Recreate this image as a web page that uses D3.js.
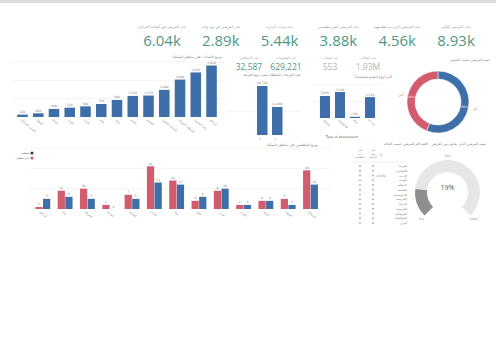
<!DOCTYPE html>
<html>
<head>
<meta charset="utf-8">
<script src="https://cdn.jsdelivr.net/npm/d3@7"></script>
<style>
  html, body { margin: 0; padding: 0; background: #fff; }
  svg { display: block; }
  text { font-family: "DejaVu Sans", sans-serif; }
  .num { font-family: "Open Sans", sans-serif; }
</style>
</head>
<body>
<svg id="chart" width="496" height="354"></svg>
<script>
// ---- data ----
const kpiTitles = ["عدد المرضى في العناية المركزة", "عدد المرضى في يوم واحد", "عدد مرات الزيارة",
                   "عدد المرضى الغير مطعمين", "عدد المرضى الذين تم تطعيمهم", "عدد المرضى الكلي"];
const kpiValues = [6040, 2890, 5440, 3880, 4560, 8930];

const subTitles = ["عدد المتعافين", "عدد الفحوصات", "عدد الوفيات", "عدد الحالات"];
const subValues = [32587, 629221, 553, 1930000];

const regions = ["الحدود الشمالية", "الجوف", "الباحة", "نجران", "جازان", "حائل", "تبوك",
                 "عسير", "القصيم", "المدينة المنورة", "المنطقة الشرقية", "مكة المكرمة", "الرياض"];
const regionCounts = [130, 200, 440, 510, 580, 710, 930, 1150, 1170, 1480, 2040, 2430, 2810];

const doseLabels = ["1", "2"];
const doseValues = [20730, 11860];

const assessTypes = ["Home", "Hospital", "ICU", "Clinic"];
const assessValues = [2650, 3120, 150, 2510];

const genderLabels = ["ذكر", "أنثى"];
const genderValues = [56, 44];

const groupNames = ["الرياض", "مكة", "الشرقية", "المدينة", "القصيم", "عسير", "تبوك",
                    "حائل", "جازان", "نجران", "الباحة", "الجوف", "الشمالية"];
const seriesNames = ["غير مطعم", "مطعم"];
const redValues  = [1, 9, 10, 2, 7, 21, 14, 4, 9, 2, 4, 5, 19];
const blueValues = [5, 6, 5, 0, 5, 13, 12, 6, 10, 2, 4, 2, 12];

const tableRows = ["العربية", "الإنجليزية", "الأردية", "الهندية", "البنغالية", "الفلبينية",
                   "الإندونيسية", "الفارسية", "التركية", "الفرنسية", "الصومالية", "السواحلية", "أخرى"];
const gaugeValue = 0.19;

const blue = "#3f6fa9", red = "#d25b6d", teal = "#4f9883";

const svg = d3.select("#chart");

// top band
svg.append("rect").attr("x", 0).attr("y", 0).attr("width", 496).attr("height", 3).attr("fill", "#dcdcdc");

// ---- KPI row ----
const kpiX = d3.scalePoint().domain(d3.range(6)).range([162, 456]);
const fmtK = d3.format(".3s");
kpiValues.forEach(function (v, i) {
    svg.append("text").attr("x", kpiX(i)).attr("y", 28).attr("text-anchor", "middle")
        .attr("font-size", 3.6).attr("fill", "#999").text(kpiTitles[i]);
    svg.append("text").attr("class", "num").attr("x", kpiX(i)).attr("y", 46).attr("text-anchor", "middle")
        .attr("font-size", 15).attr("fill", teal).text(fmtK(v));
});

// second KPI row
const subX = [249, 286, 330, 368];
subValues.forEach(function (v, i) {
    svg.append("text").attr("x", subX[i]).attr("y", 59).attr("text-anchor", "middle")
        .attr("font-size", 3.2).attr("fill", "#999").text(subTitles[i]);
    svg.append("text").attr("class", "num").attr("x", subX[i]).attr("y", 70).attr("text-anchor", "middle")
        .attr("font-size", 8.5).attr("fill", i < 2 ? teal : "#b5b5b5")
        .text(i < 3 ? d3.format(",")(v) : fmtK(v));
});

// ---- helper for simple bar chart ----
function barChart(opts) {
    const x = d3.scaleBand().domain(opts.cats).range(opts.xr).padding(opts.pad);
    const y = d3.scaleLinear().domain(opts.yd).range(opts.yr);
    const g = svg.append("g");
    g.selectAll(".grid").data(opts.grid).enter().append("line")
        .attr("x1", opts.gx[0]).attr("x2", opts.gx[1])
        .attr("y1", d => y(d)).attr("y2", d => y(d))
        .attr("stroke", "#ececec").attr("stroke-width", 0.6);
    g.selectAll(".bar").data(opts.vals).enter().append("rect")
        .attr("x", (d, i) => x(opts.cats[i])).attr("width", x.bandwidth())
        .attr("y", d => y(d)).attr("height", d => y(0) - y(d)).attr("fill", blue);
    g.selectAll(".val").data(opts.vals).enter().append("text")
        .attr("x", (d, i) => x(opts.cats[i]) + x.bandwidth() / 2).attr("y", d => y(d) - 1.5)
        .attr("text-anchor", "middle").attr("font-size", 3).attr("fill", "#777")
        .text(d => d3.format(",")(d));
    g.selectAll(".lab").data(opts.cats).enter().append("text")
        .attr("transform", d => `translate(${x(d) + x.bandwidth() / 2 - 2},${y(0) + 3}) rotate(${opts.rot})`)
        .attr("text-anchor", opts.rot ? "start" : "middle").attr("dy", opts.rot ? 0 : 2)
        .attr("font-size", 3).attr("fill", "#888").text(d => d);
    return { x: x, y: y };
}

// region bar chart
barChart({ cats: regions, vals: regionCounts, xr: [12, 222], pad: 0.33,
           yd: [0, 3000], yr: [117, 62], grid: [1000, 2000, 3000], gx: [12, 224], rot: 40 });
svg.append("text").attr("x", 222).attr("y", 58).attr("text-anchor", "end")
    .attr("font-size", 3.4).attr("fill", "#777").text("توزيع الإصابات على مناطق المملكة");

// dose bar chart
barChart({ cats: doseLabels, vals: doseValues, xr: [252.5, 287], pad: 0.3,
           yd: [0, 20000], yr: [135, 87.7], grid: [10000], gx: [226, 302], rot: 0 });
svg.append("text").attr("x", 272).attr("y", 76).attr("text-anchor", "middle")
    .attr("font-size", 3.4).attr("fill", "#777").text("عدد الجرعات المعطاة حسب نوع الجرعة");

// assessment bar chart
barChart({ cats: assessTypes, vals: assessValues, xr: [315, 380], pad: 0.33,
           yd: [0, 4000], yr: [118, 84.7], grid: [2000, 4000], gx: [312, 382], rot: 40 });
svg.append("text").attr("x", 392).attr("y", 78).attr("text-anchor", "end")
    .attr("font-size", 3.4).attr("fill", "#777").text("أكثر أنواع التقييم استخداماً");
svg.append("text").attr("x", 342).attr("y", 138).attr("text-anchor", "middle")
    .attr("font-size", 3.3).attr("fill", "#666").text("Type of assessment");

// ---- donut ----
const pie = d3.pie().sort(null).value(d => d);
const arc = d3.arc().innerRadius(23).outerRadius(31);
const donut = svg.append("g").attr("transform", "translate(438,102)");
const arcs = pie(genderValues);
donut.selectAll("path").data(arcs).enter().append("path")
    .attr("d", arc).attr("fill", (d, i) => i === 0 ? blue : red)
    .attr("stroke", "#fff").attr("stroke-width", 0.5);
donut.selectAll(".pct").data(arcs).enter().append("text")
    .attr("transform", d => `translate(${arc.centroid(d)})`).attr("text-anchor", "middle").attr("dy", 1)
    .attr("font-size", 3).attr("fill", "#fff").text(d => d.data + "%");
const outer = d3.arc().innerRadius(38).outerRadius(38);
donut.selectAll(".lab").data(arcs).enter().append("text")
    .attr("transform", d => `translate(${outer.centroid(d)})`).attr("text-anchor", "middle").attr("dy", 1)
    .attr("font-size", 3.2).attr("fill", "#777").text((d, i) => genderLabels[i]);
svg.append("text").attr("x", 490).attr("y", 61).attr("text-anchor", "end")
    .attr("font-size", 3.4).attr("fill", "#777").text("نسبة المرضى حسب الجنس");

// ---- grouped bar chart ----
const gx0 = d3.scaleBand().domain(groupNames).range([28.3, 325]).padding(0.3);
const gx1 = d3.scaleBand().domain(["r", "b"]).range([0, gx0.bandwidth()]).padding(0.05);
const gy = d3.scaleLinear().domain([0, 30]).range([209, 148]);
svg.selectAll(".ggrid").data([10, 20, 30]).enter().append("line")
    .attr("x1", 30).attr("x2", 330).attr("y1", d => gy(d)).attr("y2", d => gy(d))
    .attr("stroke", "#ececec").attr("stroke-width", 0.6);
const groups = svg.selectAll(".grp").data(groupNames).enter().append("g")
    .attr("transform", d => `translate(${gx0(d)},0)`);
groups.each(function (d, i) {
    const g = d3.select(this);
    [["r", redValues[i], red], ["b", blueValues[i], blue]].forEach(function (s) {
        g.append("rect").attr("x", gx1(s[0])).attr("width", gx1.bandwidth())
            .attr("y", gy(s[1])).attr("height", gy(0) - gy(s[1])).attr("fill", s[2]);
        g.append("text").attr("x", gx1(s[0]) + gx1.bandwidth() / 2).attr("y", gy(s[1]) - 1.5)
            .attr("text-anchor", "middle").attr("font-size", 3).attr("fill", "#777").text(s[1]);
    });
    g.append("text").attr("transform", `translate(${gx0.bandwidth() / 2 - 3},${gy(0) + 3}) rotate(40)`)
        .attr("font-size", 3).attr("fill", "#888").text(d);
});
[blue, red].forEach(function (c, i) {
    svg.append("circle").attr("cx", 32).attr("cy", 153 + i * 5).attr("r", 1.6).attr("fill", i === 0 ? "#2f3d5c" : c);
    svg.append("text").attr("x", 29).attr("y", 154.2 + i * 5).attr("text-anchor", "end")
        .attr("font-size", 3).attr("fill", "#777").text(seriesNames[1 - i]);
});
svg.append("text").attr("x", 318).attr("y", 146).attr("text-anchor", "end")
    .attr("font-size", 3.4).attr("fill", "#777").text("توزيع المطعمين على مناطق المملكة");

// ---- table ----
const ty = d3.scalePoint().domain(tableRows).range([166, 223]);
svg.append("text").attr("x", 428).attr("y", 145).attr("text-anchor", "end")
    .attr("font-size", 3.4).attr("fill", "#777").text("اللغة الأم للمرضى حسب الحالة");
[["هل", "تم", "التطعيم"], ["هل", "يوجد", "أعراض"]].forEach(function (h, j) {
    h.forEach(function (w, k) {
        svg.append("text").attr("x", j === 0 ? 360 : 373).attr("y", 151 + k * 3.5).attr("text-anchor", "middle")
            .attr("font-size", 2.8).attr("fill", "#888").text(w);
    });
});
svg.append("text").attr("x", 381).attr("y", 156).attr("text-anchor", "middle")
    .attr("font-size", 3).attr("fill", "#888").text("%");
svg.append("line").attr("x1", 352).attr("x2", 408).attr("y1", 162).attr("y2", 162)
    .attr("stroke", "#ddd").attr("stroke-width", 0.5);
tableRows.forEach(function (r) {
    svg.append("text").attr("x", 407).attr("y", ty(r) + 1).attr("text-anchor", "end")
        .attr("font-size", 3).attr("fill", "#777").text(r);
    [360, 373].forEach(function (cx) {
        svg.append("circle").attr("cx", cx).attr("cy", ty(r)).attr("r", 0.9).attr("fill", "#aaa");
    });
});
svg.append("text").attr("x", 381).attr("y", ty(tableRows[2]) + 1).attr("text-anchor", "middle")
    .attr("font-size", 3).attr("fill", "#888").text("19.9%");

// ---- gauge ----
const ga = d3.scaleLinear().domain([0, 1]).range([-0.75 * Math.PI, 0.75 * Math.PI]);
const gArc = d3.arc().innerRadius(20.5).outerRadius(32.5);
const gauge = svg.append("g").attr("transform", "translate(447.5,192.5)");
gauge.append("path").attr("d", gArc({ startAngle: ga(0), endAngle: ga(1) })).attr("fill", "#e7e7e7");
gauge.append("path").attr("d", gArc({ startAngle: ga(0), endAngle: ga(gaugeValue) })).attr("fill", "#8e8e8e");
gauge.append("text").attr("class", "num").attr("y", -3).attr("text-anchor", "middle")
    .attr("font-size", 7).attr("fill", "#555").text(d3.format(".0%")(gaugeValue));
[[0, "0%"], [0.5, "50%"], [1, "100%"]].forEach(function (t) {
    const a = ga(t[0]);
    gauge.append("text").attr("x", 37 * Math.sin(a)).attr("y", -37 * Math.cos(a) + 1)
        .attr("text-anchor", "middle").attr("font-size", 3).attr("fill", "#888").text(t[1]);
});
svg.append("text").attr("x", 486).attr("y", 145).attr("text-anchor", "end")
    .attr("font-size", 3.4).attr("fill", "#777").text("نسبة المرضى الذين يعانون من أعراض");
</script>
</body>
</html>
